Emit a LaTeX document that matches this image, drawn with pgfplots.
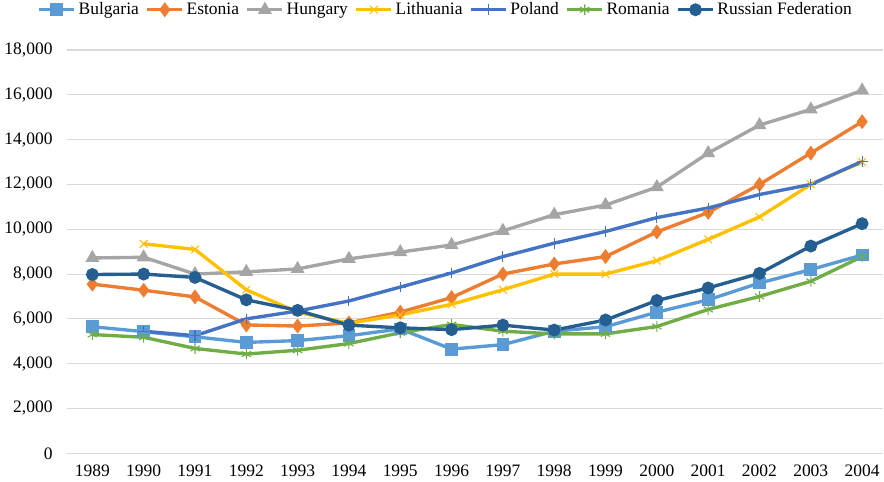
\documentclass[border=0pt]{standalone}
\usepackage{pgfplots}
\pgfplotsset{compat=1.18}
\usepackage{fontspec}
\setmainfont{Liberation Serif}
\definecolor{cBul}{HTML}{5B9BD5}
\definecolor{cEst}{HTML}{ED7D31}
\definecolor{cHun}{HTML}{A5A5A5}
\definecolor{cLit}{HTML}{FFC000}
\definecolor{cPol}{HTML}{4472C4}
\definecolor{cRom}{HTML}{70AD47}
\definecolor{cRus}{HTML}{255E91}
\definecolor{gridc}{HTML}{D9D9D9}
\begin{document}
\begin{tikzpicture}
\begin{axis}[
  scale only axis,
  width=607pt, height=300pt,
  xmin=1988.5, xmax=2004.4,
  ymin=0, ymax=18000,
  ytick={0,2000,...,18000},
  scaled y ticks=false,
  xtick={1989,...,2004},
  x tick label style={/pgf/number format/1000 sep={}},
  y tick label style={/pgf/number format/1000 sep={,}},
  /pgf/number format/assume math mode=true,
  tick label style={font=\fontsize{13}{15}\selectfont},
  ymajorgrids, xmajorgrids=false,
  grid style={draw=gridc, line width=0.8pt},
  axis x line*=bottom, axis y line*=left,
  x axis line style={draw=gridc, line width=0.8pt},
  y axis line style={draw=none},
  major tick length=0pt,
  yticklabel style={xshift=-7pt},
  xticklabel style={yshift=-5pt},
  every axis plot/.append style={line width=2.5pt, mark size=3.5pt, mark options={solid}},
  legend style={at={(0.465,1.075)}, anchor=south, draw=none, legend columns=-1,
    font=\fontsize{13}{15}\selectfont, /tikz/every even column/.append style={column sep=3pt},
    inner sep=0pt},
  legend image code/.code={\draw[#1, line width=2.5pt] (0pt,0pt) -- (26pt,0pt); \draw[#1, mark repeat=1] plot coordinates {(13pt,0pt)};},
  clip=false,
]
\addplot[cBul, mark=square*] coordinates {
(1989,5650)(1990,5430)(1991,5200)(1992,4950)(1993,5030)(1994,5250)(1995,5550)(1996,4650)
(1997,4850)(1998,5450)(1999,5650)(2000,6300)(2001,6850)(2002,7600)(2003,8200)(2004,8850)};
\addlegendentry{Bulgaria}
\addplot[cEst, mark=diamond*] coordinates {
(1989,7550)(1990,7280)(1991,6980)(1992,5730)(1993,5680)(1994,5820)(1995,6300)(1996,6950)
(1997,8000)(1998,8450)(1999,8780)(2000,9880)(2001,10750)(2002,12000)(2003,13400)(2004,14800)};
\addlegendentry{Estonia}
\addplot[cHun, mark=triangle*] coordinates {
(1989,8720)(1990,8750)(1991,8000)(1992,8100)(1993,8230)(1994,8680)(1995,8980)(1996,9300)
(1997,9930)(1998,10650)(1999,11080)(2000,11880)(2001,13400)(2002,14650)(2003,15350)(2004,16200)};
\addlegendentry{Hungary}
\addplot[cLit, mark=x, mark size=4pt, mark options={line width=0.8pt}] coordinates {
(1990,9350)(1991,9100)(1992,7300)(1993,6300)(1994,5800)(1995,6180)(1996,6650)
(1997,7300)(1998,8000)(1999,8000)(2000,8600)(2001,9550)(2002,10550)(2003,12000)(2004,13000)};
\addlegendentry{Lithuania}
\addplot[cPol, mark=+, mark size=4pt, mark options={line width=0.8pt}] coordinates {
(1990,5450)(1991,5250)(1992,6000)(1993,6350)(1994,6800)(1995,7420)(1996,8050)
(1997,8780)(1998,9380)(1999,9900)(2000,10520)(2001,10950)(2002,11550)(2003,12000)(2004,13030)};
\addlegendentry{Poland}
\addplot[cRom, mark=asterisk, mark size=4pt, mark options={line width=0.8pt}] coordinates {
(1989,5300)(1990,5180)(1991,4680)(1992,4430)(1993,4600)(1994,4900)(1995,5380)(1996,5750)
(1997,5450)(1998,5330)(1999,5330)(2000,5660)(2001,6420)(2002,7000)(2003,7680)(2004,8780)};
\addlegendentry{Romania}
\addplot[cRus, mark=*] coordinates {
(1989,7980)(1990,8000)(1991,7850)(1992,6850)(1993,6380)(1994,5720)(1995,5600)(1996,5520)
(1997,5720)(1998,5500)(1999,5950)(2000,6820)(2001,7380)(2002,8030)(2003,9250)(2004,10250)};
\addlegendentry{Russian Federation}
\end{axis}
\end{tikzpicture}
\end{document}
